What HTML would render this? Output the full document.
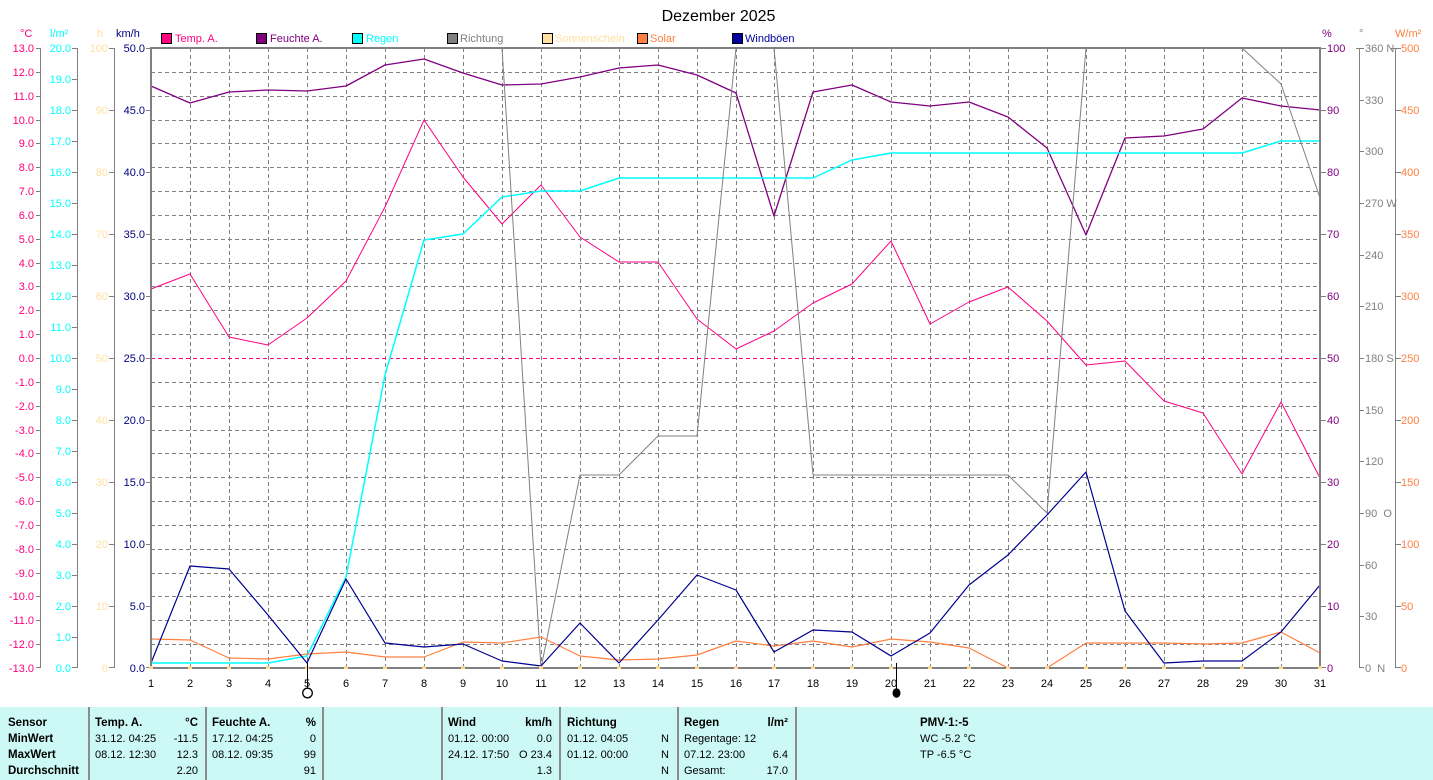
<!DOCTYPE html>
<html><head><meta charset="utf-8">
<style>
html,body{margin:0;padding:0;background:#fff;}
svg{display:block;font-family:"Liberation Sans",Arial,sans-serif;}
.t{font-size:11px;}
.b{font-size:11.5px;font-weight:bold;}
</style></head><body>
<svg width="1433" height="780" viewBox="0 0 1433 780" xmlns="http://www.w3.org/2000/svg">
<rect x="0" y="0" width="1433" height="780" fill="#fff"/>
<!-- title -->
<text x="718.5" y="21" font-size="16" text-anchor="middle" fill="#000">Dezember 2025</text>

<!-- units -->
<g class="t">
<text x="20" y="37" fill="#ff0080">°C</text>
<text x="50" y="37" fill="#00ffff">l/m²</text>
<text x="97" y="37" fill="#ffe0a0">h</text>
<text x="116" y="37" fill="#000080">km/h</text>
<text x="1322" y="37" fill="#800080">%</text>
<text x="1359" y="37" fill="#808080">°</text>
<text x="1395" y="37" fill="#ff8040">W/m²</text>
</g>

<!-- legend -->
<g class="t" stroke="none">
<rect x="161.5" y="33.5" width="10" height="10" fill="#ff0080" stroke="#000"/><text x="175" y="42" fill="#ff0080">Temp. A.</text>
<rect x="256.5" y="33.5" width="10" height="10" fill="#800080" stroke="#000"/><text x="270" y="42" fill="#800080">Feuchte A.</text>
<rect x="352.5" y="33.5" width="10" height="10" fill="#00ffff" stroke="#000"/><text x="366" y="42" fill="#00ffff">Regen</text>
<rect x="447.5" y="33.5" width="10" height="10" fill="#808080" stroke="#000"/><text x="460" y="42" fill="#808080">Richtung</text>
<rect x="542.5" y="33.5" width="10" height="10" fill="#ffe0a0" stroke="#000"/><text x="555" y="42" fill="#ffe0a0">Sonnenschein</text>
<rect x="637.5" y="33.5" width="10" height="10" fill="#ff8040" stroke="#000"/><text x="650" y="42" fill="#ff8040">Solar</text>
<rect x="732.5" y="33.5" width="10" height="10" fill="#0000a0" stroke="#000"/><text x="745" y="42" fill="#0000a0">Windböen</text>
</g>

<!-- grid -->
<g stroke="#808080" stroke-width="1" stroke-dasharray="4 3" fill="none">
<path d="M190.5 48V668M229.5 48V668M268.5 48V668M307.5 48V668M346.5 48V668M385.5 48V668M424.5 48V668M463.5 48V668M502.5 48V668M541.5 48V668M580.5 48V668M619.5 48V668M658.5 48V668M697.5 48V668M736.5 48V668M774.5 48V668M813.5 48V668M852.5 48V668M891.5 48V668M930.5 48V668M969.5 48V668M1008.5 48V668M1047.5 48V668M1086.5 48V668M1125.5 48V668M1164.5 48V668M1203.5 48V668M1242.5 48V668M1281.5 48V668"/>
<path d="M151 72.5H1320M151 96.5H1320M151 120.5H1320M151 143.5H1320M151 167.5H1320M151 191.5H1320M151 215.5H1320M151 239.5H1320M151 263.5H1320M151 286.5H1320M151 310.5H1320M151 334.5H1320M151 382.5H1320M151 406.5H1320M151 430.5H1320M151 453.5H1320M151 477.5H1320M151 501.5H1320M151 525.5H1320M151 549.5H1320M151 573.5H1320M151 596.5H1320M151 620.5H1320M151 644.5H1320"/>
</g>
<path d="M151 358.5H1320" stroke="#ff0080" stroke-width="1" stroke-dasharray="4 3" fill="none"/>

<!-- left axes -->
<g stroke="#808080" stroke-width="1" fill="none">
<path d="M40.5 48V668M77.5 48V668M114.5 48V668"/>
<path d="M36 48.5H41M36 72.5H41M36 96.5H41M36 120.5H41M36 143.5H41M36 167.5H41M36 191.5H41M36 215.5H41M36 239.5H41M36 263.5H41M36 286.5H41M36 310.5H41M36 334.5H41M36 358.5H41M36 382.5H41M36 406.5H41M36 430.5H41M36 453.5H41M36 477.5H41M36 501.5H41M36 525.5H41M36 549.5H41M36 573.5H41M36 596.5H41M36 620.5H41M36 644.5H41M36 667.5H41"/>
<path d="M72 48.5H78M72 79.5H78M72 110.5H78M72 141.5H78M72 172.5H78M72 203.5H78M72 234.5H78M72 265.5H78M72 296.5H78M72 327.5H78M72 358.5H78M72 389.5H78M72 420.5H78M72 451.5H78M72 482.5H78M72 513.5H78M72 544.5H78M72 575.5H78M72 606.5H78M72 637.5H78M72 667.5H78"/>
<path d="M109 48.5H115M109 110.5H115M109 172.5H115M109 234.5H115M109 296.5H115M109 358.5H115M109 420.5H115M109 482.5H115M109 544.5H115M109 606.5H115M109 667.5H115"/>
<path d="M146 48.5H151M146 110.5H151M146 172.5H151M146 234.5H151M146 296.5H151M146 358.5H151M146 420.5H151M146 482.5H151M146 544.5H151M146 606.5H151M146 667.5H151"/>
</g>
<g class="t" fill="#ff0080" text-anchor="end">
<text x="34" y="52">13.0</text><text x="34" y="76">12.0</text><text x="34" y="100">11.0</text><text x="34" y="124">10.0</text><text x="34" y="147">9.0</text><text x="34" y="171">8.0</text><text x="34" y="195">7.0</text><text x="34" y="219">6.0</text><text x="34" y="243">5.0</text><text x="34" y="267">4.0</text><text x="34" y="290">3.0</text><text x="34" y="314">2.0</text><text x="34" y="338">1.0</text><text x="34" y="362">0.0</text><text x="34" y="386">-1.0</text><text x="34" y="410">-2.0</text><text x="34" y="434">-3.0</text><text x="34" y="457">-4.0</text><text x="34" y="481">-5.0</text><text x="34" y="505">-6.0</text><text x="34" y="529">-7.0</text><text x="34" y="553">-8.0</text><text x="34" y="577">-9.0</text><text x="34" y="600">-10.0</text><text x="34" y="624">-11.0</text><text x="34" y="648">-12.0</text><text x="34" y="672">-13.0</text>
</g>
<g class="t" fill="#00ffff" text-anchor="end">
<text x="71" y="52">20.0</text><text x="71" y="83">19.0</text><text x="71" y="114">18.0</text><text x="71" y="145">17.0</text><text x="71" y="176">16.0</text><text x="71" y="207">15.0</text><text x="71" y="238">14.0</text><text x="71" y="269">13.0</text><text x="71" y="300">12.0</text><text x="71" y="331">11.0</text><text x="71" y="362">10.0</text><text x="71" y="393">9.0</text><text x="71" y="424">8.0</text><text x="71" y="455">7.0</text><text x="71" y="486">6.0</text><text x="71" y="517">5.0</text><text x="71" y="548">4.0</text><text x="71" y="579">3.0</text><text x="71" y="610">2.0</text><text x="71" y="641">1.0</text><text x="71" y="672">0.0</text>
</g>
<g class="t" fill="#ffe0a0" text-anchor="end">
<text x="108" y="52">100</text><text x="108" y="114">90</text><text x="108" y="176">80</text><text x="108" y="238">70</text><text x="108" y="300">60</text><text x="108" y="362">50</text><text x="108" y="424">40</text><text x="108" y="486">30</text><text x="108" y="548">20</text><text x="108" y="610">10</text><text x="108" y="672">0</text>
</g>
<g class="t" fill="#000080" text-anchor="end">
<text x="145" y="52">50.0</text><text x="145" y="114">45.0</text><text x="145" y="176">40.0</text><text x="145" y="238">35.0</text><text x="145" y="300">30.0</text><text x="145" y="362">25.0</text><text x="145" y="424">20.0</text><text x="145" y="486">15.0</text><text x="145" y="548">10.0</text><text x="145" y="610">5.0</text><text x="145" y="672">0.0</text>
</g>

<!-- right axes -->
<g stroke="#808080" stroke-width="1" fill="none">
<path d="M1359.5 48V668M1395.5 48V668"/>
<path d="M1320 48.5H1326M1320 110.5H1326M1320 172.5H1326M1320 234.5H1326M1320 296.5H1326M1320 358.5H1326M1320 420.5H1326M1320 482.5H1326M1320 544.5H1326M1320 606.5H1326M1320 667.5H1326"/>
<path d="M1356 48.5H1364M1359 100.5H1364M1359 151.5H1364M1359 203.5H1364M1359 255.5H1364M1359 306.5H1364M1359 358.5H1364M1359 410.5H1364M1359 461.5H1364M1359 513.5H1364M1359 565.5H1364M1359 616.5H1364M1359 667.5H1364"/>
<path d="M1391 48.5H1401M1395 110.5H1401M1395 172.5H1401M1395 234.5H1401M1395 296.5H1401M1395 358.5H1401M1395 420.5H1401M1395 482.5H1401M1395 544.5H1401M1395 606.5H1401M1395 667.5H1401"/>
</g>
<g class="t" fill="#800080">
<text x="1327" y="52">100</text><text x="1327" y="114">90</text><text x="1327" y="176">80</text><text x="1327" y="238">70</text><text x="1327" y="300">60</text><text x="1327" y="362">50</text><text x="1327" y="424">40</text><text x="1327" y="486">30</text><text x="1327" y="548">20</text><text x="1327" y="610">10</text><text x="1327" y="672">0</text>
</g>
<g class="t" fill="#808080">
<text x="1365" y="52">360 N</text><text x="1365" y="104">330</text><text x="1365" y="155">300</text><text x="1365" y="207">270 W</text><text x="1365" y="259">240</text><text x="1365" y="310">210</text><text x="1365" y="362">180 S</text><text x="1365" y="414">150</text><text x="1365" y="465">120</text><text x="1365" y="517">90&#160;&#160;O</text><text x="1365" y="569">60</text><text x="1365" y="620">30</text><text x="1365" y="672">0&#160;&#160;N</text>
</g>
<g class="t" fill="#ff8040">
<text x="1401" y="52">500</text><text x="1401" y="114">450</text><text x="1401" y="176">400</text><text x="1401" y="238">350</text><text x="1401" y="300">300</text><text x="1401" y="362">250</text><text x="1401" y="424">200</text><text x="1401" y="486">150</text><text x="1401" y="548">100</text><text x="1401" y="610">50</text><text x="1401" y="672">0</text>
</g>

<!-- data series -->
<g fill="none" stroke-width="1" stroke-linejoin="round">
<polyline stroke="#ff0080" points="151,289 190,274 229,337 268,345 307,318 346,281 385,207 424,120 463,177 502,224 541,185 580,237 619,262 658,262 697,319 736,349 774,331 813,303 852,284 891,241 930,324 969,302 1008,287 1047,321 1086,365 1125,361 1164,401 1203,413 1242,474 1281,402 1320,478"/>
<polyline stroke="#800080" stroke-width="1.3" points="151,86 190,103 229,92 268,90 307,91 346,86 385,65 424,59 463,73 502,85 541,84 580,77 619,68 658,65 697,75 736,93 774,216 813,92 852,85 891,102 930,106 969,102 1008,117 1047,148 1086,235 1125,138 1164,136 1203,129 1242,98 1281,106 1320,110"/>
<polyline stroke="#00ffff" stroke-width="1.5" points="151,663 190,663 229,663 268,663 307,656 346,577 385,375 424,240 463,234 502,197 541,191 580,191 619,178 658,178 697,178 736,178 774,178 813,178 852,160 891,153 930,153 969,153 1008,153 1047,153 1086,153 1125,153 1164,153 1203,153 1242,153 1281,141 1320,141"/>
<polyline stroke="#808080" points="151,48 190,48 229,48 268,48 307,48 346,48 385,48 424,48 463,48 502,48 541,668 580,475 619,475 658,436 697,436 736,48 774,48 813,475 852,475 891,475 930,475 969,475 1008,475 1047,513 1086,48 1125,48 1164,48 1203,48 1242,48 1281,84 1320,198"/>
<polyline stroke="#ff8040" stroke-width="1.2" points="151,639 190,640 229,658 268,659 307,654 346,652 385,657 424,657 463,642 502,643 541,637 580,656 619,660 658,659 697,655 736,641 774,646 813,641 852,647 891,639 930,642 969,648 1008,668 1047,668 1086,643 1125,643 1164,643 1203,644 1242,643 1281,632 1320,653"/>
<polyline stroke="#000090" stroke-width="1.2" points="151,663 190,566 229,569 268,615 307,663 346,579 385,643 424,647 463,644 502,661 541,666 580,623 619,663 658,620 697,575 736,590 774,652 813,630 852,632 891,656 930,633 969,585 1008,555 1047,515 1086,472 1125,611 1164,663 1203,661 1242,661 1281,632 1320,585"/>
</g>

<!-- plot border -->
<rect x="151" y="48" width="1169" height="620" fill="none" stroke="#808080" stroke-width="2"/>

<!-- sunshine dots -->
<g fill="#ffd898">
<rect x="149" y="666" width="4" height="3"/><rect x="188" y="666" width="4" height="3"/><rect x="227" y="666" width="4" height="3"/><rect x="266" y="666" width="4" height="3"/><rect x="305" y="666" width="4" height="3"/><rect x="344" y="666" width="4" height="3"/><rect x="383" y="666" width="4" height="3"/><rect x="422" y="666" width="4" height="3"/><rect x="461" y="666" width="4" height="3"/><rect x="500" y="666" width="4" height="3"/><rect x="539" y="666" width="4" height="3"/><rect x="578" y="666" width="4" height="3"/><rect x="617" y="666" width="4" height="3"/><rect x="656" y="666" width="4" height="3"/><rect x="695" y="666" width="4" height="3"/><rect x="734" y="666" width="4" height="3"/><rect x="772" y="666" width="4" height="3"/><rect x="811" y="666" width="4" height="3"/><rect x="850" y="666" width="4" height="3"/><rect x="889" y="666" width="4" height="3"/><rect x="928" y="666" width="4" height="3"/><rect x="967" y="666" width="4" height="3"/><rect x="1006" y="666" width="4" height="3"/><rect x="1045" y="666" width="4" height="3"/><rect x="1084" y="666" width="4" height="3"/><rect x="1123" y="666" width="4" height="3"/><rect x="1162" y="666" width="4" height="3"/><rect x="1201" y="666" width="4" height="3"/><rect x="1240" y="666" width="4" height="3"/><rect x="1279" y="666" width="4" height="3"/><rect x="1318" y="666" width="4" height="3"/>
</g>

<!-- x labels -->
<g class="t" fill="#000" text-anchor="middle">
<text x="151" y="687">1</text><text x="190" y="687">2</text><text x="229" y="687">3</text><text x="268" y="687">4</text><text x="307" y="687">5</text><text x="346" y="687">6</text><text x="385" y="687">7</text><text x="424" y="687">8</text><text x="463" y="687">9</text><text x="502" y="687">10</text><text x="541" y="687">11</text><text x="580" y="687">12</text><text x="619" y="687">13</text><text x="658" y="687">14</text><text x="697" y="687">15</text><text x="736" y="687">16</text><text x="774" y="687">17</text><text x="813" y="687">18</text><text x="852" y="687">19</text><text x="891" y="687">20</text><text x="930" y="687">21</text><text x="969" y="687">22</text><text x="1008" y="687">23</text><text x="1047" y="687">24</text><text x="1086" y="687">25</text><text x="1125" y="687">26</text><text x="1164" y="687">27</text><text x="1203" y="687">28</text><text x="1242" y="687">29</text><text x="1281" y="687">30</text><text x="1320" y="687">31</text>
</g>
<!-- moon markers -->
<path d="M307.5 663V689M896.5 663V689" stroke="#000" stroke-width="1"/>
<circle cx="307.5" cy="693" r="4.8" fill="#fff" stroke="#000" stroke-width="1.3"/>
<ellipse cx="896.5" cy="693" rx="4" ry="4.8" fill="#000"/>

<!-- table -->
<rect x="0" y="707" width="1433" height="73" fill="#ccf8f6"/>
<g fill="#8c8c8c">
<rect x="88" y="707" width="2" height="73"/><rect x="205" y="707" width="2" height="73"/><rect x="322" y="707" width="2" height="73"/><rect x="441" y="707" width="2" height="73"/><rect x="559" y="707" width="2" height="73"/><rect x="677" y="707" width="2" height="73"/><rect x="795" y="707" width="2" height="73"/>
</g>
<g fill="#000">
<g class="b">
<text x="8" y="726">Sensor</text><text x="8" y="742">MinWert</text><text x="8" y="758">MaxWert</text><text x="8" y="774">Durchschnitt</text>
<text x="95" y="726">Temp. A.</text><text x="198" y="726" text-anchor="end">°C</text>
<text x="212" y="726">Feuchte A.</text><text x="316" y="726" text-anchor="end">%</text>
<text x="448" y="726">Wind</text><text x="552" y="726" text-anchor="end">km/h</text>
<text x="567" y="726">Richtung</text>
<text x="684" y="726">Regen</text><text x="788" y="726" text-anchor="end">l/m²</text>
<text x="920" y="726">PMV-1:-5</text>
</g>
<g class="t">
<text x="95" y="742">31.12. 04:25</text><text x="198" y="742" text-anchor="end">-11.5</text>
<text x="95" y="758">08.12. 12:30</text><text x="198" y="758" text-anchor="end">12.3</text>
<text x="198" y="774" text-anchor="end">2.20</text>
<text x="212" y="742">17.12. 04:25</text><text x="316" y="742" text-anchor="end">0</text>
<text x="212" y="758">08.12. 09:35</text><text x="316" y="758" text-anchor="end">99</text>
<text x="316" y="774" text-anchor="end">91</text>
<text x="448" y="742">01.12. 00:00</text><text x="552" y="742" text-anchor="end">0.0</text>
<text x="448" y="758">24.12. 17:50</text><text x="552" y="758" text-anchor="end">O 23.4</text>
<text x="552" y="774" text-anchor="end">1.3</text>
<text x="567" y="742">01.12. 04:05</text><text x="669" y="742" text-anchor="end">N</text>
<text x="567" y="758">01.12. 00:00</text><text x="669" y="758" text-anchor="end">N</text>
<text x="669" y="774" text-anchor="end">N</text>
<text x="684" y="742">Regentage: 12</text>
<text x="684" y="758">07.12. 23:00</text><text x="788" y="758" text-anchor="end">6.4</text>
<text x="684" y="774">Gesamt:</text><text x="788" y="774" text-anchor="end">17.0</text>
<text x="920" y="742">WC -5.2 °C</text>
<text x="920" y="758">TP -6.5 °C</text>
</g>
</g>
</svg>
</body></html>
